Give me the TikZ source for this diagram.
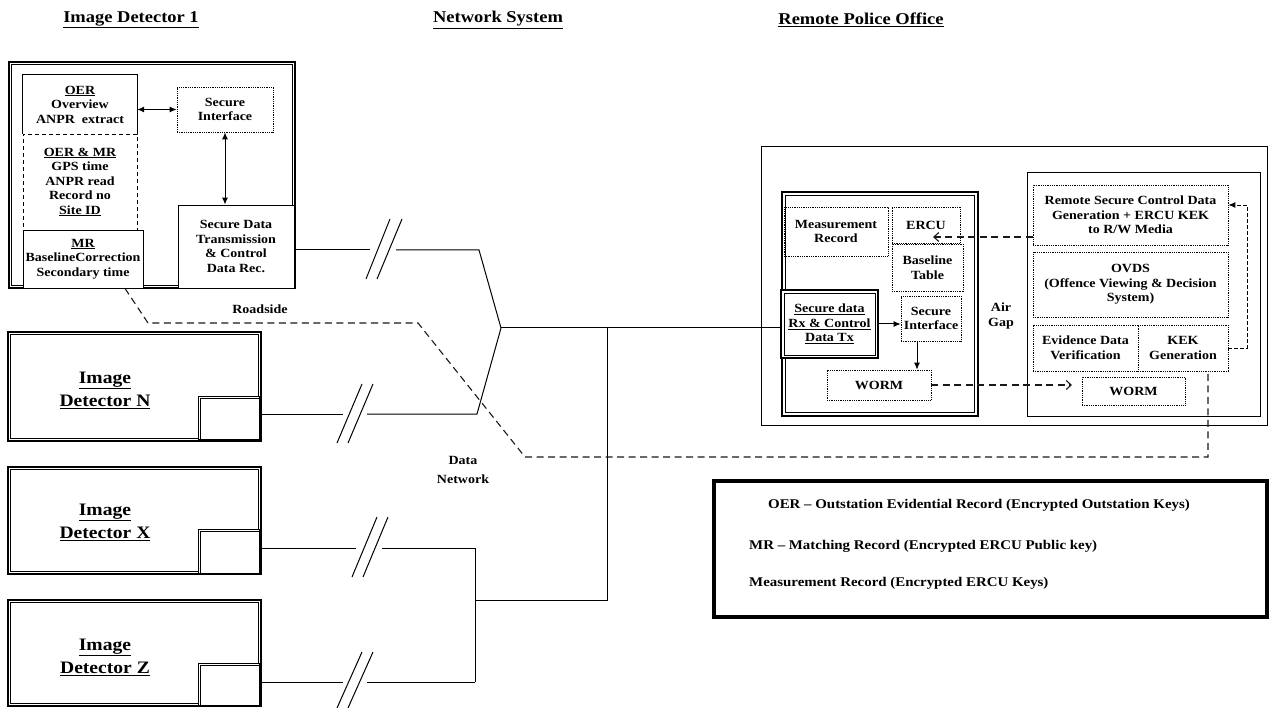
\documentclass[tikz,border=0pt]{standalone}
\usepackage{fontspec}
\setmainfont{Liberation Serif}[FakeStretch=1.12]
\usetikzlibrary{arrows.meta}
\newcommand{\innerrect}[2]{\draw[line width=0.7pt] ([shift={(#2,#2)}]#1.north west) rectangle ([shift={(-#2,-#2)}]#1.south east);}
\newcommand{\notchline}[1]{\draw[line width=0.7pt] ([xshift=3pt]#1.south west) -- ([shift={(3,3)}]#1.north west) -- ([yshift=-3pt]#1.north east);}
\tikzset{
  x=1pt, y=-1pt,
  every node/.style={font=\bfseries\fontsize{12.5}{14.5}\selectfont, inner sep=0pt, align=center},
  bigtext/.style={font=\bfseries\fontsize{17.5}{23}\selectfont},
  headtext/.style={font=\bfseries\fontsize{16.5}{20}\selectfont},
  legtext/.style={font=\bfseries\fontsize{13.3}{15}\selectfont, anchor=west, align=left},
  solidbox/.style={draw, line width=0.9pt, fill=white},
  outerbox/.style={draw, line width=1.1pt, fill=white},
  dotbox/.style={draw, line width=0.7pt, dash pattern=on 0.9pt off 0.9pt},
  dashbox/.style={draw, line width=0.9pt, dash pattern=on 4pt off 3pt},
  plain/.style={draw=none},
  wire/.style={line width=1pt},
  longdash/.style={line width=1.1pt, draw=black!90, dash pattern=on 7pt off 4.5pt},
  finedash/.style={line width=0.9pt, dash pattern=on 3.5pt off 2.5pt},
  solidarrow/.style={line width=1pt, -{Latex[length=7pt,width=6pt]}},
  botharrow/.style={line width=1pt, {Latex[length=7pt,width=6pt]}-{Latex[length=7pt,width=6pt]}},
  openarrow/.style={-{Straight Barb[length=5pt,width=9pt]}},
}
\begin{document}
\begin{tikzpicture}
\useasboundingbox (0,0) rectangle (1271,708);
% headers
\node[headtext] (h1) at (131,20) {\underline{Image Detector 1}};
\node[headtext] (h2) at (498,20) {\underline{Network System}};
\node[headtext] (h3) at (861,20) {\underline{Remote Police Office}};

% ---------- Image Detector 1 ----------
\node[outerbox, minimum width=286, minimum height=226] (det1) at (152,175) {};
\innerrect{det1}{3}
\node[plain, minimum width=114, minimum height=59] (oer) at (80,104.5) {\underline{OER}\\Overview\\ANPR~ extract};
\draw[line width=0.9pt] (oer.south west) -- (oer.north west) -- (oer.north east) -- (oer.south east);
\node[dashbox, minimum width=114, minimum height=96] (oermr) at (80,182) {\underline{OER \& MR}\\GPS time\\ANPR read\\Record no\\\underline{Site ID}};
\node[solidbox, minimum width=120, minimum height=58] (mr) at (83,259) {\underline{MR}\\BaselineCorrection\\Secondary time};
\node[dotbox, minimum width=96, minimum height=45] (si1) at (225,109.5) {Secure\\Interface};
\node[solidbox, minimum width=116, minimum height=83] (sdt) at (236,246.5) {Secure Data\\Transmission\\\& Control\\Data Rec.};
\draw[botharrow] (oer.east |- si1.west) -- (si1.west);
\draw[botharrow] (si1.south) -- (si1.south |- sdt.north);

% ---------- Other detectors ----------
\node[outerbox, minimum width=253, minimum height=109] (detN) at (134.5,386.5) {};
\innerrect{detN}{3}
\node[solidbox, minimum width=61, minimum height=43] (smN) at (228.5,417.5) {};
\notchline{smN}
\node[bigtext] (tN) at (105,390) {\underline{Image}\\\underline{Detector N}};

\node[outerbox, minimum width=253, minimum height=107] (detX) at (134.5,520.5) {};
\innerrect{detX}{3}
\node[solidbox, minimum width=61, minimum height=44] (smX) at (228.5,551) {};
\notchline{smX}
\node[bigtext] (tX) at (105,522) {\underline{Image}\\\underline{Detector X}};

\node[outerbox, minimum width=253, minimum height=106] (detZ) at (134.5,653) {};
\innerrect{detZ}{3}
\node[solidbox, minimum width=61, minimum height=42] (smZ) at (228.5,684) {};
\notchline{smZ}
\node[bigtext] (tZ) at (105,657) {\underline{Image}\\\underline{Detector Z}};

% labels
\node (road) at (260,309) {Roadside};
\node[font=\bfseries\fontsize{12.5}{19}\selectfont] (dnet) at (463,470) {Data\\Network};

% ---------- Remote Police Office ----------
\node[draw, line width=1pt, minimum width=506, minimum height=278] (pol) at (1014,286) {};
\node[draw, line width=1pt, minimum width=233, minimum height=243] (pright) at (1143.5,294.5) {};
\node[outerbox, minimum width=196, minimum height=224] (pleft) at (880,304) {};
\innerrect{pleft}{4}
\node[dotbox, minimum width=104, minimum height=49] (mrec) at (836,231.5) {Measurement\\Record};
\node[dotbox, minimum width=68, minimum height=36] (ercu) at (926,225) {ERCU};
\node[dotbox, minimum width=71, minimum height=47] (btab) at (927.5,267.5) {Baseline\\Table};
\node[dotbox, minimum width=60, minimum height=45] (psi) at (931,318.5) {Secure\\Interface};
\node[dotbox, minimum width=104, minimum height=30] (worm1) at (879,385) {WORM};
\node[outerbox, minimum width=97, minimum height=68] (sdp) at (829.5,324) {\underline{Secure data}\\\underline{Rx \& Control}\\\underline{Data Tx}};
\innerrect{sdp}{3.5}
\node (airgap) at (1001,316) {Air\\Gap};
\node[dotbox, minimum width=195, minimum height=60] (rsc) at (1130.5,215) {Remote Secure Control Data\\Generation + ERCU KEK\\to R/W Media};
\node[dotbox, minimum width=195, minimum height=65] (ovds) at (1130.5,284.5) {OVDS\\(Offence Viewing \& Decision\\System)};
\node[dotbox, minimum width=105, minimum height=46] (edv) at (1085.5,348) {Evidence Data\\Verification};
\node[dotbox, minimum width=90, minimum height=46] (kek) at (1183,348) {KEK\\Generation};
\node[dotbox, minimum width=103, minimum height=28] (worm2) at (1133.5,391) {WORM};

\coordinate (ercuin) at (933,237);
\coordinate (w2in) at (1072,385);
\coordinate (loopx) at (1247,0);
\draw[solidarrow] (sdp.east) -- (sdp.east -| psi.west);
\draw[solidarrow] ([xshift=-14pt]psi.south) -- ([xshift=-14pt]psi.south |- worm1.north);
\draw[longdash, openarrow] ([yshift=-22pt]rsc.west) -- (ercuin);
\draw[longdash, openarrow] (worm1.east) -- (w2in);
\draw[finedash, -{Latex[length=7pt,width=6pt]}] (kek.east) -- (kek.east -| loopx) |- ([yshift=10pt]rsc.east);

% ---------- Legend ----------
\node[draw, line width=4pt, minimum width=553, minimum height=136] (legend) at (990.5,549) {};
\node[legtext] (l1) at (768,505) {OER – Outstation Evidential Record (Encrypted Outstation Keys)};
\node[legtext] (l2) at (749,546) {MR – Matching Record (Encrypted ERCU Public key)};
\node[legtext] (l3) at (749,583) {Measurement Record (Encrypted ERCU Keys)};

% ---------- Network wiring ----------
\coordinate (hub) at (501,328);
\coordinate (g1a) at (370,250);
\coordinate (g1b) at (396,250);
\coordinate (k1) at (479,250);
\coordinate (gNa) at (343,414);
\coordinate (gNb) at (367,414);
\coordinate (kN) at (477,414);
\coordinate (gXa) at (356,548);
\coordinate (gXb) at (382,548);
\coordinate (bX) at (475,548);
\coordinate (gZa) at (343,682);
\coordinate (gZb) at (367,682);
\coordinate (bZ) at (475,682);
\coordinate (bm) at (475,600);
\coordinate (bm2) at (607,600);
\coordinate (vtop) at (607,328);

\draw[wire] (g1a -| sdt.east) -- (g1a);
\draw[wire] (g1b) -- (k1) -- (hub);
\draw[wire] (366,279) -- (390,219);
\draw[wire] (377,279) -- (402,219);

\draw[wire] (gNa -| smN.east) -- (gNa);
\draw[wire] (gNb) -- (kN) -- (hub);
\draw[wire] (337,443) -- (362,384);
\draw[wire] (348,443) -- (373,384);

\draw[wire] (gXa -| smX.east) -- (gXa);
\draw[wire] (gXb) -- (bX) -- (bZ);
\draw[wire] (352,577) -- (377,517);
\draw[wire] (363,577) -- (388,517);

\draw[wire] (gZa -| smZ.east) -- (gZa);
\draw[wire] (gZb) -- (bZ);
\draw[wire] (337,708) -- (362,652);
\draw[wire] (348,708) -- (373,652);

\draw[wire] (bm) -- (bm2) -- (vtop);
\draw[wire] (hub) -- (hub -| sdp.west);

% long dashed boundary
\coordinate (d1) at (148,323);
\coordinate (d2) at (418,323);
\coordinate (d3) at (525,457);
\draw[longdash] ([xshift=42pt]mr.south) -- (d1) -- (d2) -- (d3) -- ([xshift=25pt]kek.south |- d3) -- ([xshift=25pt]kek.south);
\end{tikzpicture}
\end{document}
